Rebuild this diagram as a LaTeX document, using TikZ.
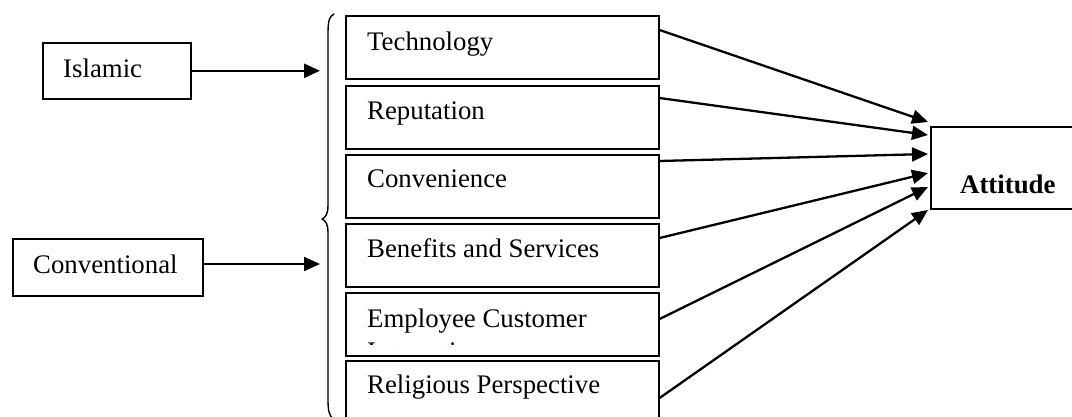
\documentclass[tikz,border=0pt]{standalone}
\usepackage{fontspec}
\setmainfont{Liberation Serif}
\usetikzlibrary{arrows.meta,calc}
\begin{document}
\begin{tikzpicture}[x=1pt,y=-1pt,
  box/.style={draw,line width=1.6pt,rectangle,inner sep=0pt,anchor=north west},
  cbox/.style={box,minimum width=313pt,minimum height=63pt},
  lbl/.style={anchor=base west,inner sep=0pt,font=\fontsize{26.8}{31}\selectfont},
  conn/.style={line width=2.3pt,-{Triangle[length=16pt,width=14pt]}},
  brace/.style={line width=1.4pt,line cap=round,line join=round}]
\clip (0,0) rectangle (1072,416);
\fill[white] (0,0) rectangle (1072,416);
% left boxes
\node[box,minimum width=148pt,minimum height=56pt] (isl) at (42,42) {};
\node[lbl] (islt) at ($(isl.north west)+(21,35)$) {Islamic};
\node[box,minimum width=190pt,minimum height=57pt] (conv0) at (12,238) {};
\node[lbl] (convt) at ($(conv0.north west)+(21,35)$) {Conventional};
% brace
\coordinate (brI) at (320,69);
\coordinate (brC) at (320,264);
\draw[brace] (334,14) .. controls (329,16) and (328,22) .. (328,34) -- (328,205)
  .. controls (328,214) and (326,217) .. (322,219)
  .. controls (326,221) and (328,224) .. (328,233) -- (328,400)
  .. controls (328,410) and (329,416) .. (334,420);
\draw[conn] (isl.east) -- (isl.east -| brI);
\draw[conn] (conv0.east |- brC) -- (brC);
% centre boxes
\node[cbox] (tech) at (345,15) {};
\node[lbl] (techt) at ($(tech.north west)+(22,35)$) {Technology};
\node[cbox] (rep) at (345,85) {};
\node[lbl] (rept) at ($(rep.north west)+(22,34)$) {Reputation};
\node[cbox] (conv) at (345,154) {};
\node[lbl] (convct) at ($(conv.north west)+(22,33)$) {Convenience};
\node[cbox] (ben) at (345,223) {};
\node[lbl] (bent) at ($(ben.north west)+(22,34)$) {Benefits and Services};
\node[cbox] (emp) at (345,292) {};
\node[lbl] (empt) at ($(emp.north west)+(22,35)$) {Employee Customer};
\begin{scope}
  \clip (345,342) rectangle (658,344.5);
  \node[lbl] (empt2) at ($(emp.north west)+(22,68)$) {Interaction};
\end{scope}
\node[cbox,minimum height=70pt] (rel) at (345,360) {};
\node[lbl] (relt) at ($(rel.north west)+(22,33)$) {Religious Perspective};
% attitude
\node[box,minimum width=160pt,minimum height=82pt] (att) at (930,126) {};
\node[lbl,font=\fontsize{26.8}{31}\selectfont\bfseries] (attt) at ($(att.north west)+(30,67)$) {Attitude};
% arrows
\draw[conn] ($(tech.north east)+(0,15)$) -- ($(att.north west)+(-2,-4)$);
\draw[conn] ($(rep.north east)+(0,13)$) -- ($(att.north west)+(-2,9)$);
\draw[conn] ($(conv.north east)+(0,7)$) -- ($(att.north west)+(-2,28)$);
\draw[conn] ($(ben.north east)+(0,15)$) -- ($(att.north west)+(-2,47)$);
\draw[conn] ($(emp.north east)+(0,27)$) -- ($(att.north west)+(-2,61)$);
\draw[conn] ($(rel.north east)+(0,38)$) -- ($(att.north west)+(-2,84)$);
\end{tikzpicture}
\end{document}
